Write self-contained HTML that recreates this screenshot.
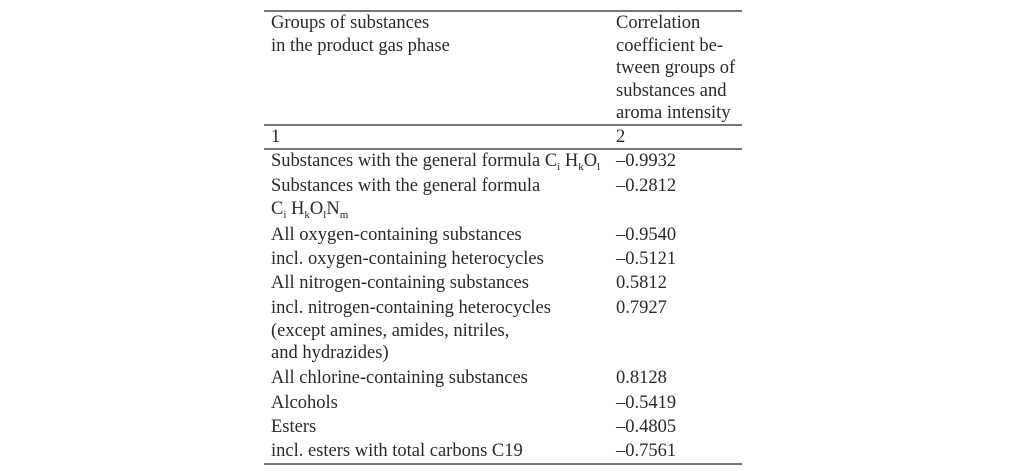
<!DOCTYPE html>
<html><head><meta charset="utf-8"><style>
body{margin:0;background:#fff;width:1010px;height:471px;position:relative;overflow:hidden;font-family:"Liberation Serif",serif;font-size:18.5px;color:#2a2a2a}
.t{position:absolute;line-height:18px;white-space:nowrap}
.l{position:absolute;left:264px;width:478px;height:2px;background:#777}
sub{font-size:11px;vertical-align:-4px;line-height:0}
</style></head><body>
<div class="l" style="top:10px"></div>
<div class="l" style="top:124px"></div>
<div class="l" style="top:148px"></div>
<div class="l" style="top:463px"></div>
<div class="t" style="left:271px;top:14px">Groups of substances</div>
<div class="t" style="left:271px;top:37px">in the product gas phase</div>
<div class="t" style="left:616px;top:14px">Correlation</div>
<div class="t" style="left:616px;top:37px">coefficient be-</div>
<div class="t" style="left:616px;top:59px">tween groups of</div>
<div class="t" style="left:616px;top:82px">substances and</div>
<div class="t" style="left:616px;top:104px">aroma intensity</div>
<div class="t" style="left:271px;top:128px">1</div>
<div class="t" style="left:616px;top:128px">2</div>
<div class="t" style="left:271px;top:152px">Substances with the general formula C<sub>i</sub> H<sub>k</sub>O<sub>l</sub></div>
<div class="t" style="left:616px;top:152px">–0.9932</div>
<div class="t" style="left:271px;top:177px">Substances with the general formula</div>
<div class="t" style="left:616px;top:177px">–0.2812</div>
<div class="t" style="left:271px;top:200px">C<sub>i</sub> H<sub>k</sub>O<sub>l</sub>N<sub>m</sub></div>
<div class="t" style="left:271px;top:226px">All oxygen-containing substances</div>
<div class="t" style="left:616px;top:226px">–0.9540</div>
<div class="t" style="left:271px;top:250px">incl. oxygen-containing heterocycles</div>
<div class="t" style="left:616px;top:250px">–0.5121</div>
<div class="t" style="left:271px;top:274px">All nitrogen-containing substances</div>
<div class="t" style="left:616px;top:274px">0.5812</div>
<div class="t" style="left:271px;top:299px">incl. nitrogen-containing heterocycles</div>
<div class="t" style="left:616px;top:299px">0.7927</div>
<div class="t" style="left:271px;top:322px">(except amines, amides, nitriles,</div>
<div class="t" style="left:271px;top:344px">and hydrazides)</div>
<div class="t" style="left:271px;top:369px">All chlorine-containing substances</div>
<div class="t" style="left:616px;top:369px">0.8128</div>
<div class="t" style="left:271px;top:394px">Alcohols</div>
<div class="t" style="left:616px;top:394px">–0.5419</div>
<div class="t" style="left:271px;top:418px">Esters</div>
<div class="t" style="left:616px;top:418px">–0.4805</div>
<div class="t" style="left:271px;top:442px">incl. esters with total carbons C19</div>
<div class="t" style="left:616px;top:442px">–0.7561</div>
</body></html>
